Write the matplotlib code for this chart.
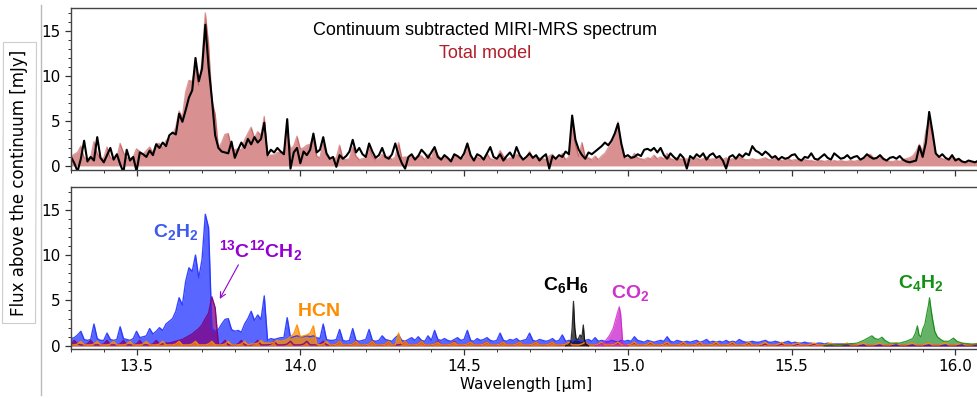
"""
Continuum-subtracted MIRI-MRS spectrum (top) and the molecular slab
model components (bottom), 13.3 - 16.08 micron.
"""

import numpy as np
import matplotlib
matplotlib.use('Agg')
import matplotlib.pyplot as plt
from matplotlib.ticker import MultipleLocator
from matplotlib.lines import Line2D

plt.rcParams['mathtext.fontset'] = 'custom'
plt.rcParams['mathtext.rm'] = 'Liberation Sans'
plt.rcParams['mathtext.bf'] = 'Liberation Sans:bold'

# ---- Data: spectra sampled every 0.01 micron from 13.30 to 16.08 ----
WAVE_START = 13.30
WAVE_STEP = 0.01

# observed, continuum subtracted [mJy]
obs_flux = [
    1.0, 0.3, -0.6, 0.8, 2.8, 0.5, 1.0, 0.6, 3.2, 0.9,     # 13.30
    0.4, 1.2, 2.0, 0.7, 1.3, 0.2, -0.7, 1.8, 0.6, 1.0,     # 13.40
    -0.6, 1.5, 1.3, 1.0, 1.7, 1.2, 2.4, 2.0, 2.6, 2.2,     # 13.50
    3.4, 3.7, 3.5, 5.8, 4.9, 6.2, 7.6, 8.4, 12.0, 9.4,     # 13.60
    10.8, 15.7, 11.0, 7.5, 3.4, 2.0, 1.6, 1.5, 1.4, 2.7,   # 13.70
    0.9, 1.8, 2.6, 2.0, 3.0, 2.4, 3.2, 2.6, 3.0, 4.8,      # 13.80
    1.2, 1.8, 1.5, 2.0, 1.6, 1.3, 5.2, -0.3, 1.5, 2.0,     # 13.90
    0.3, 1.6, 1.2, 1.8, 3.6, 1.5, 1.8, 3.2, 1.4, 0.8,      # 14.00
    1.0, -0.1, 1.2, 0.8, 1.1, 1.6, 2.9, 1.5, 2.0, 1.3,     # 14.10
    1.0, 2.5, 1.6, 0.9, 1.2, 2.0, 1.0, 0.8, 1.3, 2.5,      # 14.20
    1.2, 0.3, -0.3, 1.0, 1.3, 0.7, 1.1, 1.8, 1.4, 0.9,     # 14.30
    1.5, 2.1, 1.0, 0.7, 1.2, 0.9, 0.5, 1.3, 1.1, 0.8,      # 14.40
    1.4, 2.5, 1.2, 0.6, 1.3, 1.1, 0.7, 1.4, 2.1, 1.0,      # 14.50
    0.8, 1.3, 0.6, 1.1, 1.5, 0.9, 2.1, 1.2, 0.7, 1.0,      # 14.60
    1.4, 0.9, 1.2, 0.6, 1.0, 1.3, -0.3, 1.1, 0.8, 1.2,     # 14.70
    1.0, 1.6, 1.3, 5.6, 2.9, 1.8, 1.2, 0.8, 1.5, 1.3,      # 14.80
    1.6, 1.9, 2.2, 2.6, 2.3, 2.8, 3.6, 4.7, 2.5, 1.0,      # 14.90
    1.2, 0.9, 1.0, 1.3, 1.1, 1.8, 1.9, 1.7, 2.0, 1.5,      # 15.00
    2.0, 1.2, 0.8, 1.4, 1.0, 0.7, 1.3, 0.9, -0.3, 1.1,     # 15.10
    0.8, 1.3, 1.0, 1.4, 0.7, 1.2, 1.4, 0.9, 1.1, 0.6,      # 15.20
    -0.3, 1.0, 1.2, 0.8, 1.3, 1.0, 1.4, 1.2, 2.2, 1.7,     # 15.30
    1.5, 1.2, 1.6, 1.3, 0.9, 1.1, 0.7, 1.0, 0.8, 0.9,      # 15.40
    1.2, 1.3, 0.8, 0.6, 1.0, 0.9, 1.4, 0.8, 0.7, 1.0,      # 15.50
    1.3, 0.9, 0.7, 1.4, 1.1, 0.8, 0.9, 1.2, 0.8, 1.0,      # 15.60
    1.1, 0.7, 0.9, 1.3, 1.0, 0.8, 0.9, 1.2, 0.8, 0.6,      # 15.70
    0.9, 1.0, 0.8, 1.1, 0.7, 0.5, 0.4, 0.5, 0.6, 2.2,      # 15.80
    1.0, 2.6, 6.0, 3.8, 1.4, 1.0, 1.3, 0.9, 0.7, 1.2,      # 15.90
    0.6, 0.8, 0.5, 0.4, 0.6, 0.5, 0.4, 0.6, 0.5,           # 16.00
]

# total model [mJy]
model_flux = [
    1.0, 1.3, 1.5, 2.2, 0.9, 0.8, 0.9, 2.7, 1.4, 0.8,      # 13.30
    0.9, 2.1, 0.9, 0.8, 0.9, 2.5, 1.5, 0.9, 0.8, 1.0,      # 13.40
    1.9, 1.6, 1.3, 1.7, 2.1, 1.5, 2.5, 2.5, 2.0, 2.8,      # 13.50
    3.1, 3.4, 4.3, 6.1, 5.4, 8.2, 9.5, 9.4, 11.0, 9.0,     # 13.60
    11.6, 17.0, 13.5, 7.3, 5.8, 2.0, 2.6, 3.5, 3.6, 2.0,   # 13.70
    1.8, 1.9, 1.8, 2.9, 3.6, 4.3, 3.1, 3.8, 3.4, 5.5,      # 13.80
    1.0, 1.2, 1.2, 1.5, 1.5, 1.6, 3.8, 1.9, 2.2, 3.3,      # 13.90
    1.9, 2.0, 2.3, 2.4, 3.2, 1.1, 0.9, 2.6, 1.3, 0.7,      # 14.00
    0.8, 0.9, 2.3, 0.8, 0.7, 0.8, 2.1, 1.1, 0.7, 0.8,      # 14.10
    0.9, 2.0, 1.1, 0.7, 0.8, 1.3, 0.9, 1.1, 0.7, 1.0,      # 14.20
    2.6, 0.9, 1.0, 0.9, 1.1, 0.8, 1.2, 1.1, 0.7, 1.3,      # 14.30
    0.8, 2.0, 1.2, 0.8, 1.0, 0.8, 0.7, 1.2, 1.1, 0.8,      # 14.40
    0.9, 2.4, 1.1, 0.7, 1.0, 0.8, 0.9, 1.4, 0.8, 0.7,      # 14.50
    0.8, 1.7, 1.1, 0.7, 0.9, 0.8, 1.3, 1.0, 0.8, 0.9,      # 14.60
    1.6, 0.8, 1.0, 0.9, 0.8, 0.7, 1.1, 1.3, 0.7, 0.8,      # 14.70
    1.4, 0.7, 1.0, 5.2, 2.4, 1.1, 2.6, 1.0, 0.9, 0.7,      # 14.80
    1.1, 0.7, 1.1, 1.4, 2.0, 2.6, 3.6, 4.9, 2.3, 0.8,      # 14.90
    0.9, 0.8, 1.4, 0.9, 0.8, 0.7, 0.9, 0.8, 1.2, 0.8,      # 15.00
    1.0, 0.8, 1.4, 0.8, 0.7, 0.9, 0.8, 0.7, 0.8, 0.7,      # 15.10
    0.8, 0.9, 0.7, 0.8, 1.0, 0.7, 0.8, 0.7, 0.9, 0.7,      # 15.20
    0.9, 0.7, 0.8, 0.7, 1.0, 0.8, 0.7, 0.7, 0.8, 0.7,      # 15.30
    0.7, 0.8, 0.9, 0.7, 0.7, 1.0, 0.7, 0.6, 0.7, 0.8,      # 15.40
    0.6, 0.7, 0.6, 0.6, 0.7, 0.6, 0.6, 0.5, 0.6, 0.6,      # 15.50
    0.5, 0.6, 0.5, 0.6, 0.5, 0.6, 0.5, 0.5, 0.6, 0.5,      # 15.60
    0.6, 0.7, 0.8, 1.1, 1.3, 0.9, 0.8, 1.1, 0.7, 0.6,      # 15.70
    0.5, 0.5, 0.6, 0.5, 0.7, 0.8, 0.9, 1.1, 1.6, 2.4,      # 15.80
    1.6, 3.9, 5.0, 3.4, 1.4, 1.0, 0.8, 0.7, 0.8, 1.0,      # 15.90
    0.8, 0.7, 0.5, 0.4, 0.4, 0.4, 0.4, 0.4, 0.4,           # 16.00
]

# C2H2 component
c2h2_flux = [
    0.8, 0.9, 1.2, 1.6, 0.7, 0.6, 0.7, 2.4, 0.8, 0.6,      # 13.30
    0.6, 1.4, 0.7, 0.6, 0.7, 2.1, 0.8, 0.7, 0.6, 0.8,      # 13.40
    1.6, 0.9, 1.0, 1.1, 1.9, 1.3, 1.6, 2.0, 1.7, 2.4,      # 13.50
    2.7, 3.0, 3.8, 5.3, 4.5, 7.1, 8.6, 8.2, 10.0, 7.5,     # 13.60
    9.5, 14.5, 13.0, 1.9, 1.6, 1.8, 2.4, 2.9, 3.0, 1.8,    # 13.70
    1.6, 1.7, 1.5, 2.4, 3.0, 3.8, 2.8, 3.4, 2.9, 5.5,      # 13.80
    0.6, 0.8, 0.7, 0.8, 0.9, 0.9, 3.1, 0.9, 1.0, 1.1,      # 13.90
    1.0, 1.0, 1.1, 1.0, 1.1, 0.9, 0.8, 2.4, 0.7, 0.6,      # 14.00
    0.6, 0.7, 1.8, 0.6, 0.5, 0.6, 1.9, 0.6, 0.5, 0.6,      # 14.10
    0.7, 1.8, 0.6, 0.5, 0.6, 1.1, 0.7, 0.6, 0.5, 0.9,      # 14.20
    1.2, 0.6, 0.5, 0.7, 0.9, 0.6, 1.0, 0.6, 0.5, 1.1,      # 14.30
    0.6, 1.7, 0.7, 0.6, 0.8, 0.6, 0.5, 0.7, 0.9, 0.6,      # 14.40
    0.7, 1.7, 0.6, 0.5, 0.8, 0.6, 0.7, 0.9, 0.6, 0.5,      # 14.50
    0.6, 1.4, 0.6, 0.5, 0.7, 0.6, 0.8, 0.5, 0.6, 0.7,      # 14.60
    1.4, 0.6, 0.5, 0.7, 0.6, 0.5, 0.6, 0.8, 0.5, 0.6,      # 14.70
    1.2, 0.5, 0.6, 0.5, 0.7, 0.6, 0.5, 0.6, 0.7, 0.5,      # 14.80
    0.9, 0.5, 0.6, 0.5, 0.4, 0.6, 0.5, 0.4, 0.6, 0.5,      # 14.90
    0.6, 0.5, 1.0, 0.6, 0.5, 0.4, 0.6, 0.5, 0.4, 0.5,      # 15.00
    0.6, 0.5, 1.0, 0.5, 0.4, 0.6, 0.5, 0.4, 0.5, 0.4,      # 15.10
    0.5, 0.6, 0.4, 0.5, 0.7, 0.4, 0.5, 0.4, 0.5, 0.4,      # 15.20
    0.6, 0.4, 0.5, 0.4, 0.7, 0.5, 0.4, 0.4, 0.5, 0.4,      # 15.30
    0.4, 0.5, 0.6, 0.4, 0.4, 0.5, 0.4, 0.3, 0.4, 0.5,      # 15.40
    0.3, 0.4, 0.3, 0.3, 0.4, 0.3, 0.3, 0.2, 0.3, 0.3,      # 15.50
    0.2, 0.3, 0.2, 0.2, 0.2, 0.2, 0.2, 0.1, 0.2, 0.1,      # 15.60
    0.1, 0.1, 0.1, 0.1, 0.1, 0.1, 0.1, 0.1, 0.1, 0.1,      # 15.70
    0.1, 0.1, 0.1, 0.1, 0.1, 0.1, 0.1, 0.1, 0.1, 0.1,      # 15.80
    0.1, 0.1, 0.1, 0.1, 0.1, 0.1, 0.1, 0.1, 0.1, 0.1,      # 15.90
    0.1, 0.1, 0.1, 0.1, 0.1, 0.1, 0.1, 0.1, 0.1,           # 16.00
]

# 13C12CH2 component
c13_flux = [
    0.1, 0.6, 0.2, 0.1, 0.1, 0.2, 0.6, 0.1, 0.1, 0.1,      # 13.30
    0.2, 0.6, 0.1, 0.1, 0.1, 0.2, 0.6, 0.1, 0.1, 0.1,      # 13.40
    0.2, 0.6, 0.1, 0.1, 0.1, 0.2, 0.6, 0.2, 0.2, 0.3,      # 13.50
    0.3, 0.4, 0.5, 0.6, 0.7, 0.9, 1.1, 1.3, 1.6, 1.9,      # 13.60
    2.3, 3.0, 3.6, 5.4, 4.2, 0.1, 0.2, 0.6, 0.1, 0.1,      # 13.70
    0.1, 0.2, 0.6, 0.1, 0.1, 0.1, 0.2, 0.6, 0.1, 0.1,      # 13.80
    0.1, 0.2, 0.5, 0.1, 0.1, 0.1, 0.2, 0.5, 0.1, 0.1,      # 13.90
    0.1, 0.2, 0.5, 0.1, 0.1, 0.1, 0.2, 0.5, 0.1, 0.1,      # 14.00
    0.1, 0.2, 0.5, 0.1, 0.1, 0.1, 0.2, 0.5, 0.1, 0.1,      # 14.10
    0.1, 0.2, 0.5, 0.1, 0.1, 0.1, 0.2, 0.5, 0.1, 0.1,      # 14.20
    0.1, 0.2, 0.5, 0.1, 0.1, 0.1, 0.2, 0.5, 0.1, 0.1,      # 14.30
    0.1, 0.2, 0.5, 0.1, 0.1, 0.1, 0.2, 0.5, 0.1, 0.1,      # 14.40
    0.1, 0.2, 0.4, 0.1, 0.1, 0.1, 0.2, 0.4, 0.1, 0.1,      # 14.50
    0.1, 0.2, 0.4, 0.1, 0.1, 0.1, 0.2, 0.4, 0.1, 0.1,      # 14.60
    0.1, 0.2, 0.4, 0.1, 0.1, 0.1, 0.2, 0.4, 0.1, 0.1,      # 14.70
    0.1, 0.2, 0.4, 0.1, 0.1, 0.1, 0.2, 0.4, 0.1, 0.1,      # 14.80
    0.1, 0.2, 0.3, 0.1, 0.1, 0.1, 0.2, 0.3, 0.1, 0.1,      # 14.90
    0.1, 0.2, 0.3, 0.1, 0.1, 0.1, 0.2, 0.3, 0.1, 0.1,      # 15.00
    0.1, 0.2, 0.3, 0.1, 0.1, 0.1, 0.2, 0.3, 0.1, 0.1,      # 15.10
    0.1, 0.2, 0.3, 0.1, 0.1, 0.1, 0.2, 0.3, 0.1, 0.1,      # 15.20
    0.1, 0.2, 0.3, 0.1, 0.1, 0.1, 0.2, 0.3, 0.1, 0.1,      # 15.30
    0.1, 0.1, 0.2, 0.1, 0.1, 0.1, 0.1, 0.2, 0.1, 0.1,      # 15.40
    0.1, 0.1, 0.2, 0.1, 0.1, 0.1, 0.1, 0.2, 0.1, 0.1,      # 15.50
    0.0, 0.0, 0.0, 0.0, 0.0, 0.0, 0.0, 0.0, 0.0, 0.0,      # 15.60
    0.0, 0.0, 0.0, 0.0, 0.0, 0.0, 0.0, 0.0, 0.0, 0.0,      # 15.70
    0.0, 0.0, 0.0, 0.0, 0.0, 0.0, 0.0, 0.0, 0.0, 0.0,      # 15.80
    0.0, 0.0, 0.0, 0.0, 0.0, 0.0, 0.0, 0.0, 0.0, 0.0,      # 15.90
    0.0, 0.0, 0.0, 0.0, 0.0, 0.0, 0.0, 0.0, 0.0,           # 16.00
]

# HCN component
hcn_flux = [
    0.1, 0.1, 0.2, 0.5, 0.1, 0.1, 0.1, 0.2, 0.5, 0.1,      # 13.30
    0.1, 0.1, 0.2, 0.5, 0.1, 0.1, 0.1, 0.2, 0.5, 0.1,      # 13.40
    0.1, 0.1, 0.2, 0.5, 0.1, 0.1, 0.1, 0.2, 0.5, 0.1,      # 13.50
    0.1, 0.1, 0.2, 0.5, 0.1, 0.1, 0.1, 0.2, 0.5, 0.1,      # 13.60
    0.1, 0.1, 0.2, 0.5, 0.1, 0.1, 0.1, 0.2, 0.5, 0.1,      # 13.70
    0.1, 0.1, 0.2, 0.5, 0.1, 0.2, 0.2, 0.3, 0.6, 0.3,      # 13.80
    0.3, 0.3, 0.4, 0.6, 0.5, 0.6, 0.7, 1.0, 1.3, 2.3,      # 13.90
    1.0, 1.1, 1.2, 1.4, 2.2, 0.2, 0.1, 0.2, 0.5, 0.1,      # 14.00
    0.1, 0.2, 0.5, 0.1, 0.1, 0.1, 0.2, 0.5, 0.1, 0.1,      # 14.10
    0.1, 0.2, 0.5, 0.1, 0.1, 0.1, 0.2, 0.5, 0.1, 0.1,      # 14.20
    1.4, 0.2, 0.5, 0.1, 0.1, 0.1, 0.2, 0.5, 0.1, 0.1,      # 14.30
    0.1, 0.2, 0.4, 0.1, 0.1, 0.1, 0.2, 0.4, 0.1, 0.1,      # 14.40
    0.1, 0.2, 0.4, 0.1, 0.1, 0.1, 0.2, 0.4, 0.1, 0.1,      # 14.50
    0.1, 0.2, 0.4, 0.1, 0.1, 0.1, 0.2, 0.4, 0.1, 0.1,      # 14.60
    0.1, 0.2, 0.4, 0.1, 0.1, 0.1, 0.2, 0.4, 0.1, 0.1,      # 14.70
    0.1, 0.2, 0.4, 0.1, 0.1, 0.1, 0.2, 0.4, 0.1, 0.1,      # 14.80
    0.1, 0.2, 0.4, 0.1, 0.1, 0.1, 0.2, 0.4, 0.1, 0.1,      # 14.90
    0.1, 0.2, 0.4, 0.1, 0.1, 0.1, 0.2, 0.4, 0.1, 0.1,      # 15.00
    0.1, 0.2, 0.4, 0.1, 0.1, 0.1, 0.2, 0.4, 0.1, 0.1,      # 15.10
    0.1, 0.2, 0.4, 0.1, 0.1, 0.1, 0.2, 0.4, 0.1, 0.1,      # 15.20
    0.1, 0.2, 0.4, 0.1, 0.1, 0.1, 0.2, 0.4, 0.1, 0.1,      # 15.30
    0.1, 0.2, 0.4, 0.1, 0.1, 0.1, 0.2, 0.4, 0.1, 0.1,      # 15.40
    0.1, 0.2, 0.3, 0.1, 0.1, 0.1, 0.2, 0.3, 0.1, 0.1,      # 15.50
    0.1, 0.2, 0.3, 0.1, 0.1, 0.1, 0.2, 0.3, 0.1, 0.1,      # 15.60
    0.1, 0.2, 0.3, 0.1, 0.1, 0.1, 0.2, 0.3, 0.1, 0.1,      # 15.70
    0.1, 0.2, 0.3, 0.1, 0.1, 0.1, 0.2, 0.3, 0.1, 0.1,      # 15.80
    0.1, 0.2, 0.3, 0.1, 0.1, 0.1, 0.2, 0.3, 0.1, 0.1,      # 15.90
    0.1, 0.2, 0.3, 0.1, 0.1, 0.1, 0.2, 0.3, 0.1,           # 16.00
]

# narrow components, own wavelength points
c6h6_wave = [14.810, 14.820, 14.826, 14.830, 14.834, 14.838, 14.842, 14.848,
             14.854, 14.860, 14.864, 14.868, 14.872, 14.880]
c6h6_flux = [0.0, 0.1, 0.4, 2.0, 4.9, 2.0, 0.8, 0.7, 1.2, 1.0, 2.3, 0.6, 0.2, 0.0]

co2_wave = [14.900, 14.915, 14.925, 14.935, 14.945, 14.955, 14.962, 14.968,
            14.974, 14.978, 14.981, 14.984, 14.990, 15.000]
co2_flux = [0.0, 0.1, 0.3, 0.7, 1.2, 1.9, 2.8, 3.6, 4.3, 3.5, 2.0, 0.4, 0.1, 0.0]

c4h2_wave = [15.60, 15.66, 15.70, 15.72, 15.735, 15.745, 15.755, 15.765,
             15.776, 15.785, 15.80, 15.83, 15.85, 15.87, 15.878, 15.884,
             15.889, 15.895, 15.90, 15.907, 15.913, 15.918, 15.921, 15.925,
             15.930, 15.937, 15.945, 15.955, 15.965, 15.980, 15.994, 16.005,
             16.02, 16.05, 16.08]
c4h2_flux = [0.05, 0.15, 0.3, 0.6, 0.9, 1.1, 0.8, 0.7, 0.95, 0.6, 0.3, 0.3,
             0.5, 0.8, 1.4, 2.2, 1.2, 1.0, 1.8, 2.4, 3.6, 4.5, 5.3, 4.2, 3.0,
             1.6, 1.0, 0.7, 0.5, 0.5, 0.85, 0.5, 0.3, 0.2, 0.2]

wave = np.round(WAVE_START + WAVE_STEP * np.arange(len(obs_flux)), 2)
for arr in (model_flux, c2h2_flux, c13_flux, hcn_flux):
    assert len(arr) == len(obs_flux)

# ---- Figure ----
fig = plt.figure(figsize=(9.77, 3.98), dpi=100)
ax1 = fig.add_axes([0.0727, 0.5729, 0.932, 0.407])
ax2 = fig.add_axes([0.0727, 0.1231, 0.932, 0.407])

# top: data + total model
ax1.fill_between(wave, model_flux, color='firebrick', alpha=0.5, lw=0)
ax1.plot(wave, model_flux, color='firebrick', alpha=0.45, lw=1.0)
ax1.plot(wave, obs_flux, color='black', lw=1.5)
ax1.text(0.455, 0.86, 'Continuum subtracted MIRI-MRS spectrum', transform=ax1.transAxes,
         ha='center', va='center', fontsize=13, family='Liberation Sans', color='black')
ax1.text(0.455, 0.72, 'Total model', transform=ax1.transAxes,
         ha='center', va='center', fontsize=13, family='Liberation Sans', color='#b01e2a')

# bottom: individual molecules
components = [
    (c2h2_flux, '#2233ff', 0.75),
    (c13_flux, '#800080', 0.75),
    (hcn_flux, 'darkorange', 0.75),
]
for flux, col, alp in components:
    ax2.fill_between(wave, flux, color=col, alpha=alp, lw=0)
    ax2.plot(wave, flux, color=col, alpha=0.9, lw=1.0)

narrow = [
    (c6h6_wave, c6h6_flux, 'black', 0.7),
    (co2_wave, co2_flux, '#cc22cc', 0.75),
    (c4h2_wave, c4h2_flux, 'green', 0.6),
]
for wl, flux, col, alp in narrow:
    ax2.fill_between(wl, flux, color=col, alpha=alp, lw=0)
    ax2.plot(wl, flux, color=col, alpha=0.8, lw=0.9)

lab = dict(fontsize=14, ha='center', va='center')
ax2.text(13.62, 12.5, r'$\mathbf{C_2H_2}$', color='#3d5aef', **lab)
ax2.text(13.88, 10.5, r'$\mathbf{{}^{13}C^{12}CH_2}$', color='#9400d3', **lab)
ax2.text(14.055, 3.9, r'$\mathbf{HCN}$', color='darkorange', **lab)
ax2.text(14.81, 6.7, r'$\mathbf{C_6H_6}$', color='black', **lab)
ax2.text(15.007, 5.8, r'$\mathbf{CO_2}$', color='#cc33cc', **lab)
ax2.text(15.894, 6.9, r'$\mathbf{C_4H_2}$', color='#129012', **lab)
ax2.annotate('', xy=(13.75, 4.9), xytext=(13.815, 9.2),
             arrowprops=dict(arrowstyle='->', color='#9400d3', lw=0.8))

for ax, ylim in ((ax1, (-0.45, 17.55)), (ax2, (-0.35, 17.5))):
    ax.set_xlim(13.30, 16.08)
    ax.set_ylim(*ylim)
    ax.set_xticks([13.5, 14.0, 14.5, 15.0, 15.5, 16.0])
    ax.set_yticks([0, 5, 10, 15])
    ax.xaxis.set_minor_locator(MultipleLocator(0.1))
    ax.yaxis.set_minor_locator(MultipleLocator(1))
    ax.tick_params(which='major', direction='out', length=4, width=0.9,
                   labelsize=11, colors='#333333', labelcolor='black')
    ax.tick_params(which='minor', direction='out', length=2.5, width=0.7,
                   colors='#333333')
    for sp in ax.spines.values():
        sp.set_color('#444444')
        sp.set_linewidth(1.0)

ax1.tick_params(labelbottom=False)
ax2.set_xlabel('Wavelength [μm]', fontsize=11, labelpad=2)

fig.text(19 / 977, 1 - 182.5 / 398, 'Flux above the continuum [mJy]', rotation=90,
         ha='center', va='center', fontsize=12,
         bbox=dict(boxstyle='square,pad=0.45', fc='white', ec='#cccccc', lw=0.8))
fig.add_artist(Line2D([40.7 / 977, 40.7 / 977], [3 / 398, 393 / 398],
                      color='#bbbbbb', lw=1.0))

fig.savefig('out.png', dpi=100)
plt.close(fig)
